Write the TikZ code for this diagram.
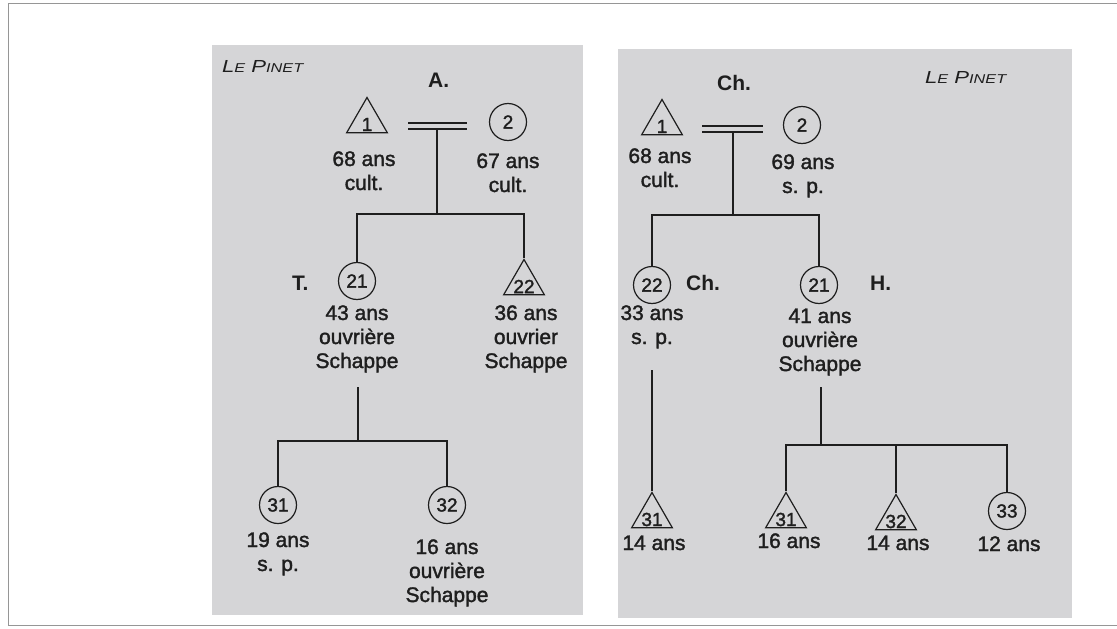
\documentclass[tikz,border=0pt]{standalone}
\usepackage{fontspec}
\usepackage{graphicx}
\setmainfont{Liberation Sans}
\newfontfamily\scanfont{Liberation Sans}[FakeBold=1.6]
\usetikzlibrary{shapes.geometric}
\definecolor{ink}{RGB}{30,30,30}
\definecolor{panelgray}{RGB}{213,213,215}
\definecolor{framegray}{RGB}{150,150,150}
\newcommand{\stk}[1]{\begin{tabular}[t]{@{}c@{}}#1\end{tabular}}
\newcommand{\lepinet}{\resizebox{81pt}{12pt}{\fontsize{17}{20}\selectfont\itshape L{\fontsize{12.5}{14}\selectfont E} P{\fontsize{12.5}{14}\selectfont INET}}}
\begin{document}
\begin{tikzpicture}[x=1pt,y=-1pt,
  txt/.style={font=\scanfont\fontsize{21}{24}\selectfont, text=ink, inner sep=0pt, anchor=base},
  lbl/.style={font=\fontsize{21}{24}\selectfont\bfseries, text=ink, inner sep=0pt, anchor=base west},
  ttl/.style={text=ink, inner sep=0pt, anchor=base west},
  fem/.style={circle, draw=ink, line width=1.2pt, minimum size=37pt, inner sep=0pt, font=\scanfont\fontsize{19}{19}\selectfont, text=ink},
  mal/.style={regular polygon, regular polygon sides=3, draw=ink, line width=1.2pt, minimum size=47pt, inner sep=0pt},
  inlbl/.style={font=\scanfont\fontsize{19}{19}\selectfont, text=ink, inner sep=0pt, yshift=-3.5pt},
  link/.style={draw=ink, line width=1.2pt},
  frameline/.style={draw=framegray, line width=0.8pt}
]
\useasboundingbox (0,0) rectangle (1117,629);
\fill[white] (0,0) rectangle (1117,629);
\draw[frameline] (1117,3) -- (8,3) -- (8,625) -- (1117,625);
\fill[panelgray] (212,45) rectangle (583,615);
\fill[panelgray] (618,49) rectangle (1072,618);

% ---------- left panel ----------
\node[ttl] (Ltitle) at (222,72) {\lepinet};
\node[lbl] (LA) at (428,87) {A.};
\node[mal] (L1) at (367,121) {};
\node[inlbl] (L1t) at (L1.center) {1};
\node[fem] (L2) at (508,122) {2};
\node[txt] (L1a) at (364,166) {\stk{68 ans\\cult.}};
\node[txt] (L2a) at (508,168) {\stk{67 ans\\cult.}};
\coordinate (Lm1a) at (408,123); \coordinate (Lm1b) at (467,123);
\coordinate (Lm2a) at (408,129); \coordinate (Lm2b) at (467,129);
\coordinate (Lmid) at (437,129); \coordinate (Lj) at (437,214);
\draw[link] (Lm1a) -- (Lm1b);
\draw[link] (Lm2a) -- (Lm2b);
\draw[link] (Lmid) -- (Lj);
\node[fem] (L21) at (357,281) {21};
\node[mal] (L22) at (524,283) {};
\node[inlbl] (L22t) at (L22.center) {22};
\draw[link] (L21.north) |- (Lj) -| (L22.corner 1);
\node[lbl] (LT) at (292,290) {T.};
\node[txt] (L21a) at (357,320) {\stk{43 ans\\ouvrière\\Schappe}};
\node[txt] (L22a) at (526,320) {\stk{36 ans\\ouvrier\\Schappe}};
\coordinate (LS) at (358,387); \coordinate (LJ2) at (358,441);
\draw[link] (LS) -- (LJ2);
\node[fem] (L31) at (278,505) {31};
\node[fem] (L32) at (447,505) {32};
\draw[link] (L31.north) |- (LJ2) -| (L32.north);
\node[txt] (L31a) at (278,547) {\stk{19 ans\\s. p.}};
\node[txt] (L32a) at (447,554) {\stk{16 ans\\ouvrière\\Schappe}};

% ---------- right panel ----------
\node[ttl] (Rtitle) at (925,83) {\lepinet};
\node[lbl] (RCh) at (717,90) {Ch.};
\node[mal] (R1) at (662,123) {};
\node[inlbl] (R1t) at (R1.center) {1};
\node[fem] (R2) at (802,125) {2};
\node[txt] (R1a) at (660,163) {\stk{68 ans\\cult.}};
\node[txt] (R2a) at (803,169) {\stk{69 ans\\s. p.}};
\coordinate (Rm1a) at (702,126); \coordinate (Rm1b) at (763,126);
\coordinate (Rm2a) at (702,132); \coordinate (Rm2b) at (763,132);
\coordinate (Rmid) at (733,132); \coordinate (Rj) at (733,215);
\draw[link] (Rm1a) -- (Rm1b);
\draw[link] (Rm2a) -- (Rm2b);
\draw[link] (Rmid) -- (Rj);
\node[fem] (R22) at (652,285) {22};
\node[fem] (R21) at (819,285) {21};
\draw[link] (R22.north) |- (Rj) -| (R21.north);
\node[lbl] (RCh2) at (686,290) {Ch.};
\node[lbl] (RH) at (870,290) {H.};
\node[txt] (R22a) at (652,320) {\stk{33 ans\\s. p.}};
\node[txt] (R21a) at (820,323) {\stk{41 ans\\ouvrière\\Schappe}};
\coordinate (RS1) at (652,370);
\node[mal] (R31a) at (652,516) {};
\node[inlbl] (R31at) at (R31a.center) {31};
\draw[link] (RS1) -- (R31a.corner 1);
\coordinate (RS) at (821,387); \coordinate (RJ2) at (821,445);
\draw[link] (RS) -- (RJ2);
\node[mal] (R31b) at (786,516) {};
\node[inlbl] (R31bt) at (R31b.center) {31};
\node[mal] (R32) at (896,518) {};
\node[inlbl] (R32t) at (R32.center) {32};
\node[fem] (R33) at (1007,511) {33};
\draw[link] (R31b.corner 1) |- (RJ2) -| (R33.north);
\draw[link] (R32.corner 1) -- (R32.corner 1 |- RJ2);
\node[txt] (R31aa) at (654,550) {14 ans};
\node[txt] (R31ba) at (789,548) {16 ans};
\node[txt] (R32a) at (898,550) {14 ans};
\node[txt] (R33a) at (1009,551) {12 ans};
\end{tikzpicture}
\end{document}
